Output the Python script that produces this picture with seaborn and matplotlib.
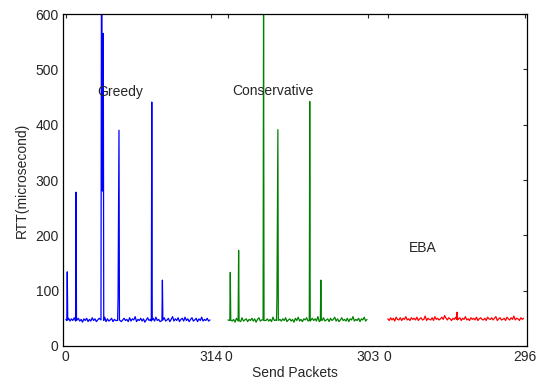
import numpy as np
import pandas as pd
import seaborn as sns
import matplotlib.pyplot as plt

# baseline RTT samples (evenly spread over each run) and spikes, per scheme
greedy_base = [48, 44, 50, 45, 49, 46, 51, 44, 47, 50, 45, 48, 43, 49, 46, 50, 44, 48, 45, 51,
               46, 49, 44, 47, 50, 45, 48, 46, 52, 44, 49, 45, 47, 50, 44, 48, 46, 51, 45, 49,
               44, 47, 50, 46, 48, 44, 51, 45, 49, 47, 53, 44, 48, 46, 50, 45, 49, 43, 47, 51,
               46, 48, 44, 50, 45, 52, 46, 48, 44, 49, 46, 51, 45, 47, 50, 44, 48, 53, 45, 49,
               46, 51, 44, 48, 50, 45, 52, 46, 49, 44, 48, 51, 45, 47, 50, 44, 49, 46, 52, 45,
               48, 46, 50, 45, 47]
greedy_spike_x = [2, 3, 4, 21, 22, 23, 76, 77, 78, 79, 81, 82, 112, 113, 115, 116,
                  185, 186, 187, 208, 209, 210]
greedy_spike_y = [46, 134, 47, 45, 278, 46, 47, 650, 650, 280, 565, 46, 46, 86, 390, 47,
                  45, 441, 47, 46, 119, 47]

cons_base = [47, 44, 49, 45, 48, 43, 50, 46, 48, 44, 51, 45, 47, 49, 44, 48, 46, 50, 45, 49,
             43, 48, 51, 45, 47, 44, 50, 46, 49, 45, 48, 44, 52, 46, 47, 50, 44, 48, 45, 49,
             46, 51, 44, 47, 49, 45, 48, 43, 50, 46, 52, 45, 48, 44, 49, 47, 51, 45, 48, 44,
             50, 46, 49, 45, 53, 44, 48, 46, 51, 45, 47, 49, 44, 50, 46, 48, 52, 45, 49, 44,
             47, 51, 46, 48, 45, 50, 44, 49, 47, 53, 45, 48, 46, 50, 44, 49, 47, 52, 45, 48]
cons_spike_x = [4, 5, 6, 22, 23, 24, 76, 77, 78, 105, 106, 108, 109, 176, 177, 178,
                200, 201, 202]
cons_spike_y = [46, 133, 47, 45, 173, 46, 47, 650, 46, 46, 87, 391, 46, 47, 442, 45,
                46, 119, 47]

eba_base = [49, 46, 51, 47, 50, 45, 52, 48, 47, 51, 46, 50, 48, 53, 47, 49, 46, 51, 48, 50,
            47, 52, 46, 49, 51, 47, 48, 54, 46, 50, 48, 47, 51, 46, 53, 48, 50, 47, 49, 52,
            48, 55, 50, 47, 51, 49, 46, 50, 48, 52, 47, 49, 51, 46, 50, 48, 53, 47, 49, 46,
            51, 48, 50, 47, 52, 46, 49, 51, 48, 47, 50, 46, 52, 49, 48, 51, 47, 50, 53, 46,
            49, 51, 47, 48, 50, 46, 52, 49, 47, 51, 48, 54, 47, 50, 49, 46, 51, 48, 50]
eba_spike_x = [149, 150, 151]
eba_spike_y = [48, 61, 47]

schemes = ['Greedy', 'Conservative', 'EBA']
lengths = [314, 303, 296]
offsets = [0, 351, 697]
colors = {'Greedy': (0, 0, 1), 'Conservative': (0, 0.5, 0), 'EBA': (1, 0, 0)}


def build(name, base, length, sx, sy, off):
    bx = np.linspace(0, length - 2, len(base))
    by = np.asarray(base, dtype=float)
    sx = np.asarray(sx, dtype=float)
    # drop baseline samples that sit inside a spike
    keep = np.array([np.min(np.abs(sx - v)) > 1.5 for v in bx])
    x = np.concatenate([bx[keep], sx]) + off
    y = np.concatenate([by[keep], sy])
    d = pd.DataFrame({'x': x, 'rtt': y, 'scheme': name})
    return d.sort_values('x')


df = pd.concat([
    build('Greedy', greedy_base, lengths[0], greedy_spike_x, greedy_spike_y, offsets[0]),
    build('Conservative', cons_base, lengths[1], cons_spike_x, cons_spike_y, offsets[1]),
    build('EBA', eba_base, lengths[2], eba_spike_x, eba_spike_y, offsets[2]),
])

sns.set_style('white')
plt.rcParams['font.family'] = ['Liberation Sans', 'DejaVu Sans']

fig = plt.figure(figsize=(5.42, 3.81), dpi=100)
ax = fig.add_axes([0.116, 0.092, 0.856, 0.871])

sns.lineplot(data=df, x='x', y='rtt', hue='scheme', palette=colors, estimator=None,
             sort=False, units='scheme', linewidth=0.9, legend=False, ax=ax)

ax.set_xlim(-6.5, 998)
ax.set_ylim(0, 600)
ticks = [0, 314, 351, 654, 697, 993]
ax.set_xticks(ticks)
ax.set_xticklabels(['0', '314', '0', '303', '0', '296'])
ax.set_yticks(range(0, 601, 100))
ax.tick_params(direction='in', top=True, right=True, length=3, labelsize=10, pad=3)
for s in ax.spines.values():
    s.set_color('black')
    s.set_linewidth(0.9)

ax.set_xlabel('Send Packets', fontsize=10, labelpad=1)
ax.set_ylabel('RTT(microsecond)', fontsize=10, labelpad=5)

ax.text(67, 459, 'Greedy', fontsize=10, ha='left', va='center')
ax.text(361, 461, 'Conservative', fontsize=10, ha='left', va='center')
ax.text(742, 177, 'EBA', fontsize=10, ha='left', va='center')

fig.savefig('out.png', dpi=100)
